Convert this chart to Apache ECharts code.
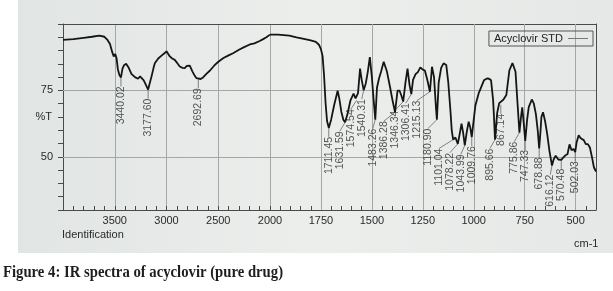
<!DOCTYPE html>
<html>
<head>
<meta charset="utf-8">
<script src="https://cdn.jsdelivr.net/npm/echarts@6/dist/echarts.min.js"></script>
<style>
html, body { margin: 0; padding: 0; background: #fff; }
#chart { width: 613px; height: 291px; }
</style>
</head>
<body>
<div id="chart"></div>
<script>
// IR spectrum: wavenumber (cm-1) and %T
var spectrumWave = [
    4000, 3900, 3800, 3720, 3650, 3600, 3570, 3546, 3525, 3510, 3495, 3482, 3470, 3455, 3440.02,
    3425, 3410, 3390, 3365, 3339, 3305, 3275, 3255, 3240, 3220, 3200, 3177.60, 3160, 3145, 3125,
    3113, 3080, 3048, 3020, 3000, 2985, 2968, 2945, 2920, 2895, 2872, 2845, 2823, 2805, 2791,
    2775, 2768, 2750, 2727, 2710, 2692.69, 2670, 2647, 2615, 2582, 2540, 2502, 2450, 2400, 2357,
    2300, 2250, 2195, 2150, 2100, 2066, 2035, 2000,
    1960, 1905, 1870, 1840, 1800, 1775, 1760, 1750, 1742, 1735, 1727, 1720, 1711.45, 1700, 1685,
    1668, 1660, 1650, 1640, 1631.59, 1620, 1605, 1590, 1580, 1574.54, 1568, 1558, 1550, 1540.31,
    1530, 1520, 1510, 1500, 1492, 1483.26, 1475, 1465, 1455, 1442, 1426, 1410, 1398, 1386.28,
    1374, 1364, 1355, 1346.34, 1335, 1325, 1315, 1306.41, 1298, 1285, 1275, 1262, 1250, 1240,
    1228, 1215.13, 1205, 1195, 1185, 1180.90, 1172, 1160, 1148, 1135, 1125, 1115, 1108, 1101.04,
    1090, 1078.22, 1068, 1060, 1052, 1043.99, 1035, 1025, 1017, 1009.76, 1000, 992, 975, 950,
    935, 925, 915, 905, 900, 895.66, 885, 875, 867.14, 855, 840, 825, 810, 801, 795, 785, 775.86,
    768, 762, 755, 747.33, 738, 730, 715, 705, 695, 686, 678.88, 672, 668, 660, 650, 640, 628,
    616.12, 608, 598, 585, 570.48, 560, 550, 540, 530, 520, 510, 502.03, 495, 485, 475, 460,
    450, 440, 430, 420, 410, 400
];
var spectrumT = [
    94.0, 94.3, 94.8, 95.2, 95.6, 95.2, 94.0, 92.5, 89.5, 87.8, 88.7, 87.0, 83.0, 80.8, 79.9,
    83.2, 84.5, 85.0, 83.5, 81.2, 80.0, 79.4, 80.3, 80.5, 78.8, 77.2, 75.3, 78.0, 80.2, 83.5,
    85.2, 87.0, 88.1, 89.0, 89.7, 89.0, 87.8, 87.0, 86.5, 85.2, 84.0, 83.5, 83.4, 84.2, 84.6,
    84.3, 84.0, 82.2, 80.5, 79.6, 79.2, 79.3, 79.9, 81.2, 82.4, 84.3, 85.7, 87.2, 88.2, 89.0,
    90.3, 91.3, 92.3, 92.7, 93.6, 94.3, 95.0, 96.0,
    96.0, 95.6, 95.0, 94.5, 93.8, 93.3, 92.2, 90.5, 88.0, 81.0, 70.0, 63.5, 60.9, 64.0, 69.5,
    74.9, 72.0, 67.0, 64.0, 63.0, 66.0, 71.3, 73.8, 72.0, 71.3, 74.0, 83.2, 79.0, 75.1,
    77.6, 82.0, 87.5, 80.0, 72.0, 64.0, 76.0, 79.5, 82.0, 85.8, 82.1, 75.9, 71.0, 66.8,
    74.9, 74.9, 73.0, 70.8, 78.0, 83.2, 77.0, 73.6, 79.0, 81.2, 81.8, 83.7, 82.8, 82.5,
    79.0, 74.5, 83.9, 80.0, 68.0, 64.0, 78.0, 83.5, 85.2, 84.6, 78.0, 68.0, 60.0, 56.5,
    57.3, 54.9, 59.0, 62.5, 59.0, 54.3, 59.0, 63.2, 61.0, 57.4, 64.0, 69.3, 74.1, 78.8,
    79.5, 79.4, 78.8, 71.4, 64.0, 56.5, 66.5, 70.2, 69.6, 71.5, 73.3, 82.6, 85.3, 85.6, 82.0, 70.0, 59.1,
    65.0, 68.6, 63.0, 56.0, 64.0, 68.7, 71.6, 70.0, 66.1, 60.0, 53.2, 60.0, 65.0, 66.8, 63.5, 58.8, 52.0,
    46.7, 49.0, 50.4, 49.0, 48.9, 49.8, 50.6, 51.0, 54.7, 52.5, 53.0, 51.8, 55.5, 58.1, 57.0, 56.3,
    54.8, 54.8, 53.5, 50.0, 46.0, 44.5
];
// labelled peaks
var peakWave = [
    3440.02, 3177.60, 2692.69,
    1711.45, 1631.59, 1574.54, 1540.31, 1483.26, 1386.28, 1346.34, 1306.41, 1215.13, 1180.90,
    1101.04, 1078.22, 1043.99, 1009.76, 895.66, 867.14, 775.86, 747.33, 678.88, 616.12, 570.48, 502.03
];
var rightGridWave = [1750, 1500, 1250, 1000, 750, 500];
var gridT = [75, 50];
var seriesName = 'Acyclovir STD';

var pairs = spectrumWave.map(function(w, i) { return [w, spectrumT[i]]; });
var leftData = pairs.filter(function(p) { return p[0] >= 2000; });
var rightData = pairs.filter(function(p) { return p[0] <= 2000; });
var peakData = peakWave.map(function(w) { return [w, spectrumT[spectrumWave.indexOf(w)]]; });
var leftPeaks = peakData.filter(function(p) { return p[0] > 2000; });
var rightPeaks = peakData.filter(function(p) { return p[0] < 2000; });

var axisColor = '#4a4a4a';
var gridColor = '#a4a7a5';
var font = 'Liberation Sans';
var labelGap = 11;     // min spacing of peak labels, px
var labelDrop = 9;     // label top below the trough, px

var markLines = function(withX) {
    var data = gridT.map(function(v) { return {yAxis: v}; });
    if (withX) {
        rightGridWave.forEach(function(w) { data.push({xAxis: w}); });
    }
    return {
        z: 1,
        silent: true,
        symbol: ['none', 'none'],
        label: {show: false},
        lineStyle: {color: gridColor, width: 1, type: 'solid'},
        data: data
    };
};

var peakSeries = function(idx, data) {
    return {
        type: 'scatter',
        xAxisIndex: idx,
        yAxisIndex: idx,
        data: data,
        symbolSize: 0.1,
        itemStyle: {color: 'rgba(0,0,0,0)'},
        label: {
            show: true,
            formatter: function(p) { return p.value[0].toFixed(2); },
            position: 'bottom',
            distance: labelDrop,
            rotate: 90,
            align: 'right',
            verticalAlign: 'middle',
            fontSize: 10.5,
            fontFamily: font,
            color: '#2b2b2b'
        },
        labelLine: {show: true, lineStyle: {color: '#666', width: 0.8}}
    };
};

var chart = echarts.init(document.getElementById('chart'));
var option = {
    animation: false,
    graphic: [
        {
            type: 'rect', z: -10, silent: true,
            shape: {x: 18, y: 0, width: 595, height: 253},
            style: {
                fill: new echarts.graphic.LinearGradient(0, 0, 1, 0, [
                    {offset: 0, color: '#e1e5e3'},
                    {offset: 0.5, color: '#eceeec'},
                    {offset: 1, color: '#e5e8e6'}
                ])
            }
        },
        {type: 'text', left: 62, top: 229, style: {text: 'Identification', fontSize: 11, fontFamily: font, fill: '#2a2a2a'}},
        {type: 'text', left: 574, top: 238, style: {text: 'cm-1', fontSize: 11, fontFamily: font, fill: '#2a2a2a'}},
        {
            type: 'text', left: 3, top: 264, scaleX: 0.865,
            style: {text: 'Figure 4: IR spectra of acyclovir (pure drug)', fontSize: 17, fontWeight: 'bold', fontFamily: 'Liberation Serif', fill: '#1e1e1e'}
        }
    ],
    legend: {
        data: [seriesName],
        right: 20,
        top: 31,
        align: 'right',
        icon: 'rect',
        itemWidth: 20,
        itemHeight: 1,
        padding: [2, 5, 2, 5],
        borderColor: '#555',
        borderWidth: 1,
        borderRadius: 0,
        itemStyle: {color: '#777'},
        textStyle: {fontSize: 11, fontFamily: font, color: '#222'}
    },
    grid: [
        {left: 63, top: 24, width: 207, bottom: 81},
        {left: 270, top: 24, width: 326, bottom: 81}
    ],
    xAxis: [
        {
            type: 'value', gridIndex: 0, min: 2000, max: 4000, interval: 500, inverse: true,
            axisLine: {lineStyle: {color: axisColor}},
            axisTick: {inside: true, length: 4, lineStyle: {color: axisColor}},
            minorTick: {show: true, splitNumber: 5, length: 4, lineStyle: {color: axisColor}},
            axisLabel: {
                margin: 5, fontSize: 11, fontFamily: font, color: '#2a2a2a', showMinLabel: true,
                formatter: function(v) { return v === 4000 ? '' : v; }
            },
            splitLine: {show: true, lineStyle: {color: gridColor, width: 1}}
        },
        {
            type: 'value', gridIndex: 1, min: 400, max: 2000, interval: 50, inverse: true,
            axisLine: {lineStyle: {color: axisColor}},
            axisTick: {inside: true, length: 4, lineStyle: {color: axisColor}},
            axisLabel: {
                margin: 5, fontSize: 11, fontFamily: font, color: '#2a2a2a',
                formatter: function(v) { return rightGridWave.indexOf(v) >= 0 ? v : ''; }
            },
            splitLine: {show: false}
        },
        {
            type: 'value', gridIndex: 0, position: 'top', min: 2000, max: 4000, inverse: true,
            axisLine: {lineStyle: {color: axisColor}}, axisTick: {show: false},
            axisLabel: {show: false}, splitLine: {show: false}
        },
        {
            type: 'value', gridIndex: 1, position: 'top', min: 400, max: 2000, inverse: true,
            axisLine: {lineStyle: {color: axisColor}}, axisTick: {show: false},
            axisLabel: {show: false}, splitLine: {show: false}
        }
    ],
    yAxis: [
        {
            type: 'value', gridIndex: 0, min: 30, max: 100, interval: 5,
            name: '%T', nameLocation: 'middle', nameRotate: 0, nameGap: 11, nameMoveOverlap: false,
            nameTextStyle: {fontSize: 11, fontFamily: font, color: '#2a2a2a'},
            axisLine: {show: true, lineStyle: {color: axisColor}},
            axisTick: {show: true, length: 5, lineStyle: {color: axisColor}},
            axisLabel: {
                margin: 10, fontSize: 11, fontFamily: font, color: '#2a2a2a',
                formatter: function(v) { return gridT.indexOf(v) >= 0 ? v : ''; }
            },
            splitLine: {show: false}
        },
        {type: 'value', gridIndex: 1, min: 30, max: 100, show: false},
        {
            type: 'value', gridIndex: 1, position: 'right', min: 30, max: 100,
            axisLine: {show: true, lineStyle: {color: axisColor}}, axisTick: {show: false},
            axisLabel: {show: false}, splitLine: {show: false}
        }
    ],
    series: [
        {
            name: seriesName, type: 'line', xAxisIndex: 0, yAxisIndex: 0, data: leftData,
            symbol: 'none', lineStyle: {color: '#151515', width: 1.8}, itemStyle: {color: '#151515'},
            markLine: markLines(false)
        },
        {
            name: seriesName, type: 'line', xAxisIndex: 1, yAxisIndex: 1, data: rightData,
            symbol: 'none', lineStyle: {color: '#151515', width: 1.8}, itemStyle: {color: '#151515'},
            markLine: markLines(true)
        },
        peakSeries(0, leftPeaks),
        peakSeries(1, rightPeaks)
    ]
};
chart.setOption(option);

// second pass: spread the peak labels so they do not overlap (pushed leftwards)
var spreadLabels = function(idx, data) {
    var pts = data.map(function(p) {
        return chart.convertToPixel({xAxisIndex: idx, yAxisIndex: idx}, p);
    });
    var xs = pts.map(function(p) { return p[0]; });
    for (var i = xs.length - 2; i >= 0; i--) {
        if (xs[i] > xs[i + 1] - labelGap) {
            xs[i] = xs[i + 1] - labelGap;
        }
    }
    return pts.map(function(p, i) { return [xs[i], p[1] + labelDrop]; });
};
var labelPos = [spreadLabels(0, leftPeaks), spreadLabels(1, rightPeaks)];
var layoutFor = function(k) {
    return function(params) {
        var pos = labelPos[k][params.dataIndex];
        return {x: pos[0], y: pos[1]};
    };
};
chart.setOption({
    series: [{}, {}, {labelLayout: layoutFor(0)}, {labelLayout: layoutFor(1)}]
});
</script>
</body>
</html>
